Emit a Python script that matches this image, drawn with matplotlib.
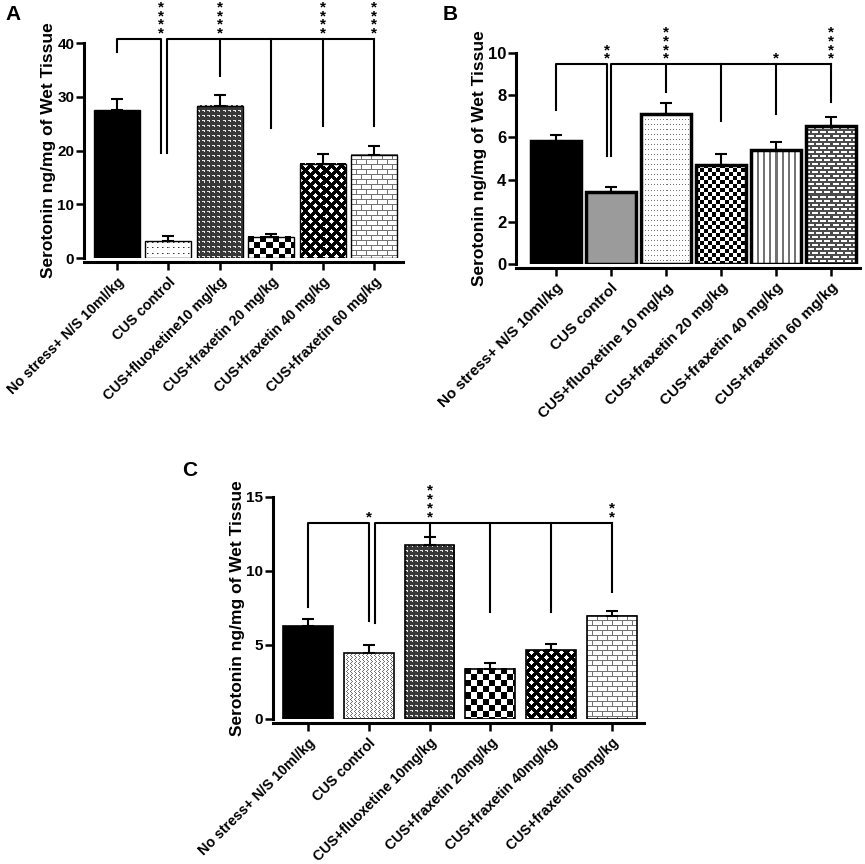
import numpy as np
import matplotlib
matplotlib.use("Agg")
import matplotlib.pyplot as plt

plt.rcParams['font.family'] = ['Liberation Sans', 'DejaVu Sans']
plt.rcParams['font.weight'] = 'bold'

W, H = 865, 864

# ---- data ----
A_labels = ["No stress+ N/S 10ml/kg", "CUS control", "CUS+fluoxetine10 mg/kg",
            "CUS+fraxetin 20 mg/kg", "CUS+fraxetin 40 mg/kg", "CUS+fraxetin 60 mg/kg"]
A_means = [27.5, 3.2, 28.3, 4.0, 17.5, 19.2]
A_sem = [2.1, 0.9, 2.0, 0.4, 1.8, 1.6]
A_stars = ["****", "****", "", "****", "****"]
A_ticks = [0, 10, 20, 30, 40]

B_labels = ["No stress+ N/S 10ml/kg", "CUS control", "CUS+fluoxetine 10 mg/kg",
            "CUS+fraxetin 20 mg/kg", "CUS+fraxetin 40 mg/kg", "CUS+fraxetin 60 mg/kg"]
B_means = [5.85, 3.40, 7.12, 4.71, 5.40, 6.55]
B_sem = [0.27, 0.25, 0.49, 0.50, 0.40, 0.44]
B_stars = ["**", "****", "", "*", "****"]
B_ticks = [0, 2, 4, 6, 8, 10]

C_labels = ["No stress+ N/S 10ml/kg", "CUS control", "CUS+fluoxetine 10mg/kg",
            "CUS+fraxetin 20mg/kg", "CUS+fraxetin 40mg/kg", "CUS+fraxetin 60mg/kg"]
C_means = [6.28, 4.43, 11.74, 3.40, 4.66, 6.97]
C_sem = [0.45, 0.56, 0.56, 0.40, 0.38, 0.32]
C_stars = ["*", "****", "", "", "**"]
C_ticks = [0, 5, 10, 15]

# bracket heights: (top line, left bracket legs, right bracket first leg, drops for bars 3-6)
A_bracket = (40.7, [38.4, 19.5], 19.5, [33.9, 24.2, 24.6, 24.6])
B_bracket = (9.46, [7.31, 5.13], 5.13, [8.13, 6.79, 7.12, 7.70])
C_bracket = (13.27, [7.58, 6.61], 6.52, [12.30, 7.24, 7.24, 8.59])

SOLID = ('black', '#9b9b9b')


def texture(kind, nh, nw):
    # grey-level fill pattern, one value per pixel
    i, j = np.mgrid[0:nh, 0:nw]
    a = np.ones((nh, nw))
    if kind == 'dots':
        a[(i % 5 == 2) & (j % 5 == 2)] = 0.2
        a[(i % 5 == 2) & (j % 5 == 3)] = 0.6
    elif kind == 'finedots':
        a[(i % 5 == 1) & (j % 3 == 1)] = 0.45
    elif kind == 'wavy':
        a[((i + j) % 4 == 0) & (i % 4 < 2)] = 0.45
        a[((i - j) % 4 == 0) & (i % 4 >= 2)] = 0.45
    elif kind == 'zigzag':
        a[:] = 0.22
        a[(i % 5 == 0) & (j % 5 < 3)] = 0.9
        a[(j % 5 == 2) & (i % 5 == 1)] = 0.9
    elif kind.startswith('checker'):
        s = int(kind[7:])
        a = ((i // s + j // s) % 2).astype(float)
    elif kind == 'diamond':
        a[((i + j) % 10 < 5) | ((i - j) % 10 < 5)] = 0.0
    elif kind == 'vlines':
        a[j % 6 < 2] = 0.45
    elif kind == 'brickfine':
        a[i % 4 < 2] = 0.3
        a[(j % 8 < 2) & ((i // 4) % 2 == 0)] = 0.3
        a[((j + 4) % 8 < 2) & ((i // 4) % 2 == 1)] = 0.3
    elif kind == 'brick':
        a[i % 5 == 0] = 0.45
        a[(j % 10 == 0) & ((i // 5) % 2 == 0)] = 0.45
        a[(j % 10 == 5) & ((i // 5) % 2 == 1)] = 0.45
    return a


def make_panel(rect, labels, means, sem, stars, ticks, bracket, fills, bar_w,
               bar_lw, gap, tick_fs, xlab_fs, xlim):
    left, right, top, bottom = rect
    ax = fig.add_axes([left / W, 1 - bottom / H, (right - left) / W, (bottom - top) / H])
    x = np.arange(len(means))
    ax.set_xlim(*xlim)
    ax.set_ylim(0, ticks[-1])

    face = [f if f in SOLID else 'none' for f in fills]
    bars = ax.bar(x, means, width=bar_w, color=face, edgecolor='black',
                  linewidth=bar_lw, zorder=3)
    for p, f in zip(bars, fills):
        if f in SOLID:
            continue
        x0, w, h = p.get_x(), p.get_width(), p.get_height()
        (px0, py0), (px1, py1) = ax.transData.transform([(x0, 0), (x0 + w, h)])
        nw, nh = max(int(round(px1 - px0)), 1), max(int(round(py1 - py0)), 1)
        ax.imshow(texture(f, nh, nw), extent=(x0, x0 + w, 0, h), cmap='gray',
                  vmin=0, vmax=1, interpolation='nearest', aspect='auto', zorder=2)
    ax.set_xlim(*xlim)
    ax.set_ylim(0, ticks[-1])

    ax.errorbar(x, means, yerr=[np.zeros(len(sem)), sem], fmt='none', ecolor='black',
                elinewidth=1.5, capsize=4, capthick=1.5, zorder=2.5)

    # significance brackets
    top_y, left_legs, right_first, drops = bracket
    kw = dict(color='black', lw=1.5, clip_on=False, zorder=4)
    xl = x[1] + gap[0]
    xr = x[1] + gap[1]
    ax.plot([x[0], x[0], xl, xl], [left_legs[0], top_y, top_y, left_legs[1]], **kw)
    ax.plot([xr, xr, x[-1]], [right_first, top_y, top_y], **kw)
    for xi, d in zip(x[2:], drops):
        ax.plot([xi, xi], [top_y, d], **kw)
    star_x = [xl] + list(x[2:])
    for sx, st in zip(star_x, stars):
        if st:
            ax.annotate("\n".join(st), (sx, top_y), xytext=(0, -1.0), textcoords='offset points',
                        ha='center', va='bottom', fontsize=11, fontweight='bold',
                        linespacing=0.52, annotation_clip=False)

    for s in ('top', 'right'):
        ax.spines[s].set_visible(False)
    for s in ('left', 'bottom'):
        ax.spines[s].set_linewidth(2.2)
    ax.spines['bottom'].set_position(('outward', 3))
    ax.set_yticks(ticks)
    ax.set_xticks(x)
    ax.set_xticklabels(labels, rotation=45, ha='right', rotation_mode='anchor',
                       fontsize=xlab_fs, fontweight='bold')
    ax.tick_params(axis='y', length=6, width=1.8, labelsize=tick_fs, pad=1)
    ax.tick_params(axis='x', length=6, width=1.8, pad=3)
    for t in ax.get_yticklabels():
        t.set_fontweight('bold')
    ax.set_ylabel("Serotonin ng/mg of Wet Tissue", fontsize=12.5, fontweight='bold', labelpad=1)
    return ax


fig = plt.figure(figsize=(W / 100, H / 100), dpi=100)

axA = make_panel((84, 403, 43, 258), A_labels, A_means, A_sem, A_stars, A_ticks, A_bracket,
                 ['black', 'dots', 'zigzag', 'checker6', 'diamond', 'brick'],
                 0.895, 1.0, (-0.14, -0.03), 11, 10.3, (-0.64, 5.56))
axB = make_panel((516, 860, 53, 264), B_labels, B_means, B_sem, B_stars, B_ticks, B_bracket,
                 ['black', '#9b9b9b', 'finedots', 'checker4', 'vlines', 'brickfine'],
                 0.91, 2.5, (-0.07, 0.0), 12, 11, (-0.727, 5.53))
axC = make_panel((273, 644, 497, 719), C_labels, C_means, C_sem, C_stars, C_ticks, C_bracket,
                 ['black', 'wavy', 'zigzag', 'checker6', 'diamond', 'brick'],
                 0.82, 1.2, (0.01, 0.11), 11, 10.3, (-0.577, 5.53))

fig.text(13 / W, 1 - 14 / H, "A", fontsize=15, fontweight='bold', ha='center', va='center')
fig.text(450 / W, 1 - 14 / H, "B", fontsize=15, fontweight='bold', ha='center', va='center')
fig.text(190 / W, 1 - 470 / H, "C", fontsize=15, fontweight='bold', ha='center', va='center')

fig.savefig("out.png", dpi=100)
